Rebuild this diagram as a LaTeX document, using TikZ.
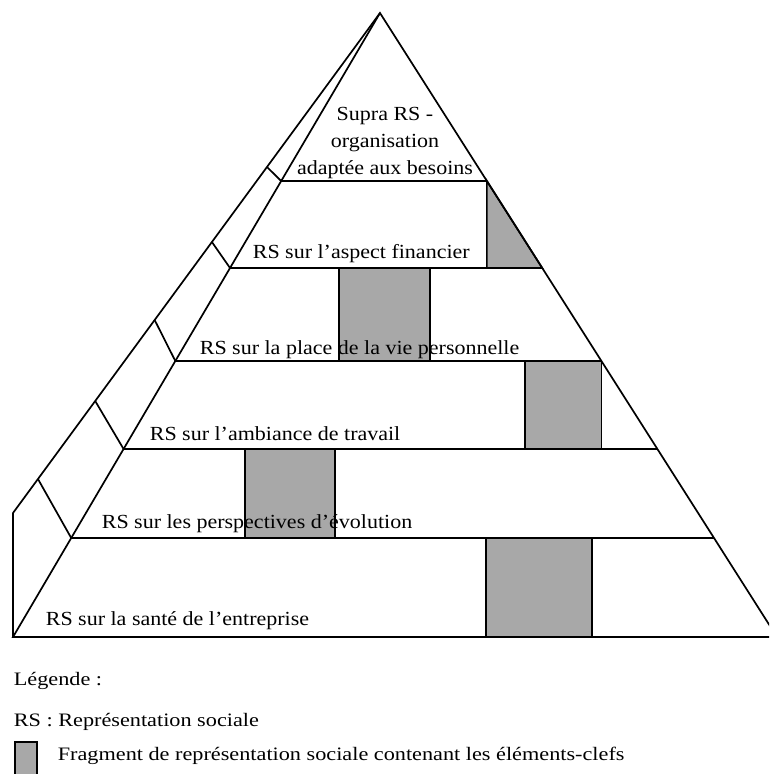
\documentclass[tikz,border=0pt]{standalone}
\usepackage{fontspec}
\setmainfont{Liberation Serif}[FakeStretch=1.1]
\newfontfamily\legfont{Liberation Serif}[FakeStretch=1.17]
\usetikzlibrary{calc}
\definecolor{boxgray}{RGB}{168,168,168}
\begin{document}
\begin{tikzpicture}[x=1pt,y=-1pt,line width=1.7pt,line join=miter,
  boxfill/.style={fill=boxgray,draw=black},
  lbl/.style={inner sep=0pt,anchor=base west,font=\fontsize{20}{24}\selectfont},
  toplbl/.style={inner sep=0pt,anchor=base,font=\fontsize{20}{24}\selectfont},
  leg/.style={inner sep=0pt,anchor=base west,font=\legfont\fontsize{19}{23}\selectfont}]
\useasboundingbox (0,0) rectangle (769,774);
\begin{scope}
\clip (0,0) rectangle (769,774);
\coordinate (apex) at (380,13);
\coordinate (bl) at (13,637);
\coordinate (br) at (777,637);
\coordinate (ol) at (13,513);
\foreach \n/\y in {1/181,2/268,3/361,4/449,5/538} {
  \coordinate (L\n) at ($(apex)!{(\y-13)/624}!(bl)$);
  \coordinate (R\n) at ($(apex)!{(\y-13)/624}!(br)$);
}
\foreach \n/\y in {1/167,2/242,3/320,4/401,5/479} {
  \coordinate (O\n) at ($(apex)!{(\y-13)/500}!(ol)$);
}
% key fragments
\filldraw[boxfill] (R1) -- (R1 |- L2) -- (R2) -- cycle;
\filldraw[boxfill] (339,268) rectangle (430,361);
\filldraw[boxfill] (525,361) rectangle (R3 |- L4);
\filldraw[boxfill] (245,449) rectangle (335,538);
\filldraw[boxfill] (486,538) rectangle (592,637);
% pyramid
\draw (apex) -- (br) -- (bl) -- cycle;
\draw (apex) -- (ol) -- (bl);
\foreach \n in {1,...,5} {
  \draw (L\n) -- (R\n);
  \draw (L\n) -- (O\n);
}
% legend box
\filldraw[boxfill] (15,742) rectangle (37,790);
\end{scope}
% labels
\node[toplbl] (t1) at (385,120) {Supra RS -};
\node[toplbl] (t2) at (385,147) {organisation};
\node[toplbl] (t3) at (385,174) {adaptée aux besoins};
\node[lbl] (l2) at (252,258) {RS sur l’aspect financier};
\node[lbl] (l3) at (199,354) {RS sur la place de la vie personnelle};
\node[lbl] (l4) at (149,440) {RS sur l’ambiance de travail};
\node[lbl] (l5) at (101,528) {RS sur les perspectives d’évolution};
\node[lbl] (l6) at (45,625) {RS sur la santé de l’entreprise};
% legend
\node[leg] (g1) at (13,685) {Légende :};
\node[leg] (g2) at (13,726) {RS : Représentation sociale};
\node[leg] (g3) at (57,760) {Fragment de représentation sociale contenant les éléments-clefs};
\end{tikzpicture}
\end{document}
